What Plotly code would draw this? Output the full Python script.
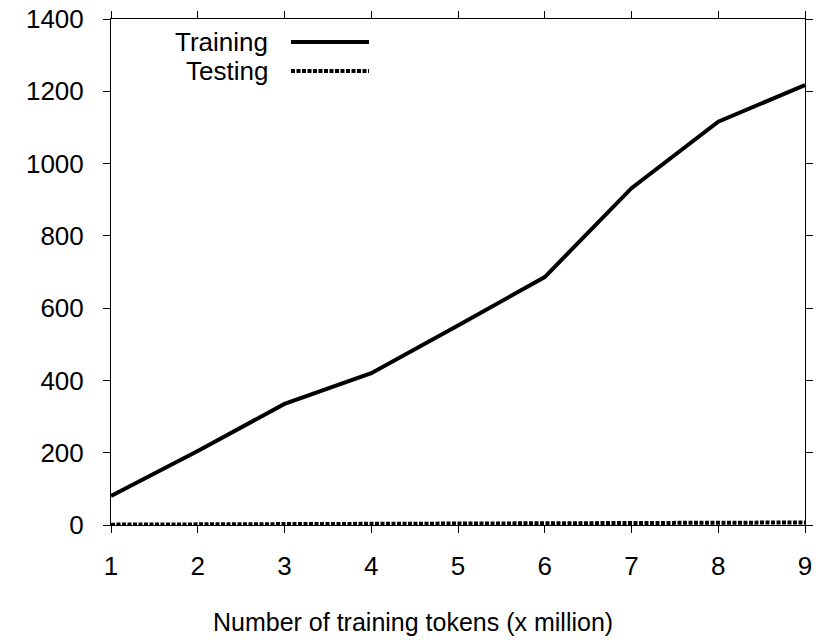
import plotly.graph_objects as go

x_tokens = [1, 2, 3, 4, 5, 6, 7, 8, 9]
training = [80, 205, 335, 420, 552, 686, 932, 1116, 1217]
testing = [1, 1.5, 2, 3, 3.5, 4, 5, 6, 7]

x_title = "Number of training tokens (x million)"
y_ticks = [0, 200, 400, 600, 800, 1000, 1200, 1400]

FONT = "Liberation Sans, Arial, Helvetica, sans-serif"
FS = 26

W, H = 824, 640
L, R, T, B = 111, 19, 19, 115
PW, PH = W - L - R, H - T - B

def px_x(p):
    return (p - L) / PW

def px_y(p):
    return (H - B - p) / PH

fig = go.Figure()
fig.add_trace(go.Scatter(x=x_tokens, y=training, mode="lines", name="Training",
                         line=dict(color="black", width=4)))
fig.add_trace(go.Scatter(x=x_tokens, y=testing, mode="lines", name="Testing",
                         line=dict(color="black", width=4, dash="4px,1.5px")))

axis_common = dict(showline=True, linecolor="black", linewidth=1, mirror="ticks",
                   ticks="outside", ticklen=7, tickcolor="black", tickwidth=1,
                   showgrid=False, zeroline=False, automargin=False,
                   tickfont=dict(family=FONT, size=FS, color="black"))

fig.update_xaxes(range=[1, 9], tickvals=x_tokens, ticklabelstandoff=11, **axis_common)
fig.update_yaxes(range=[0, 1400], tickvals=y_ticks, ticklabelstandoff=14, **axis_common)

# x-axis title, centred on the figure as in the original
fig.add_annotation(text=x_title, xref="paper", yref="paper",
                   x=px_x(412.5), y=px_y(622), xanchor="center", yanchor="middle",
                   showarrow=False, font=dict(family=FONT, size=25, color="black"))

# gnuplot-style legend: text right-aligned, sample line to its right
legend_items = [("Training", "solid", 42), ("Testing", "4px,1.5px", 71)]
for label, dash, ypx in legend_items:
    fig.add_annotation(text=label, xref="paper", yref="paper",
                       x=px_x(270), y=px_y(ypx),
                       xanchor="right", yanchor="middle", showarrow=False,
                       font=dict(family=FONT, size=FS, color="black"))
    fig.add_shape(type="line", xref="paper", yref="paper",
                  x0=px_x(291), x1=px_x(369), y0=px_y(ypx), y1=px_y(ypx),
                  line=dict(color="black", width=4, dash=dash))

fig.update_layout(width=W, height=H, showlegend=False,
                  margin=dict(l=L, r=R, t=T, b=B, autoexpand=False),
                  plot_bgcolor="white", paper_bgcolor="white",
                  font=dict(family=FONT, size=FS, color="black"))

fig.write_html("out.html")
